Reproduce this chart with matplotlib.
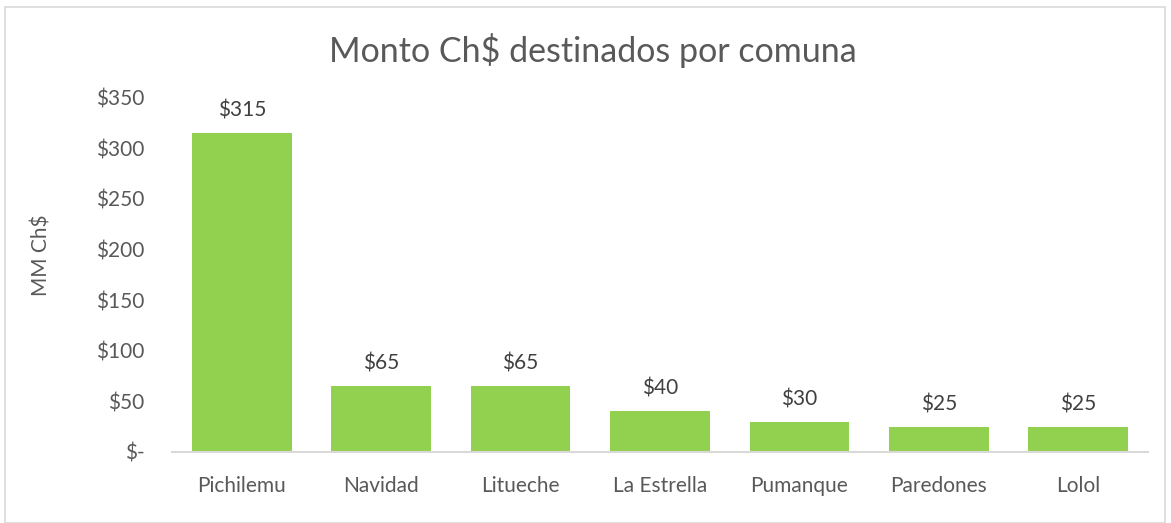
import matplotlib
matplotlib.use("Agg")
import matplotlib.pyplot as plt
from matplotlib.patches import Rectangle

categories = ["Pichilemu", "Navidad", "Litueche", "La Estrella", "Pumanque", "Paredones", "Lolol"]
values = [315, 65, 65, 40, 30, 25, 25]
yticks = [0, 50, 100, 150, 200, 250, 300, 350]
ytick_labels = ["$-", "$50", "$100", "$150", "$200", "$250", "$300", "$350"]

plt.rcParams['font.family'] = ['Lato', 'DejaVu Sans']
TXT = "#595959"

fig = plt.figure(figsize=(11.71, 5.23), dpi=100)
ax = fig.add_axes([172/1171, 1-452/523, (1148-172)/1171, (452-97.6)/523])

x = list(range(len(categories)))
bars = ax.bar(x, values, width=0.715, color="#92D050", zorder=2)
for xi, v in zip(x, values):
    ax.annotate(f"${v}", (xi, v), xytext=(0, 9), textcoords="offset points",
                ha="center", va="bottom", fontsize=15, color="#404040")

ax.set_xlim(-0.5, len(categories) - 0.5)
ax.set_ylim(0, 350)
ax.set_xticks(x)
ax.set_xticklabels(categories)
ax.set_yticks(yticks)
ax.set_yticklabels(ytick_labels)
ax.tick_params(axis='both', length=0, labelsize=15, labelcolor=TXT)
ax.tick_params(axis='x', pad=17)
ax.tick_params(axis='y', pad=20)
for s in ["top", "right", "left"]:
    ax.spines[s].set_visible(False)
ax.spines["bottom"].set_color("#D9D9D9")
ax.spines["bottom"].set_linewidth(1.5)

ax.set_ylabel("MM Ch$", fontsize=15, color=TXT)
ax.yaxis.set_label_coords((52 - 172) / (1148 - 172), 0.555)

fig.text(593/1171, 1-51/523, "Monto Ch$ destinados por comuna", ha="center", va="center",
         fontsize=24.5, color=TXT)

fig.patches.append(Rectangle((5/1171, 0), 1160/1171, 1-7/523, transform=fig.transFigure,
                             fill=False, edgecolor="#D9D9D9", linewidth=1.2))

fig.savefig("out.png", dpi=100)
